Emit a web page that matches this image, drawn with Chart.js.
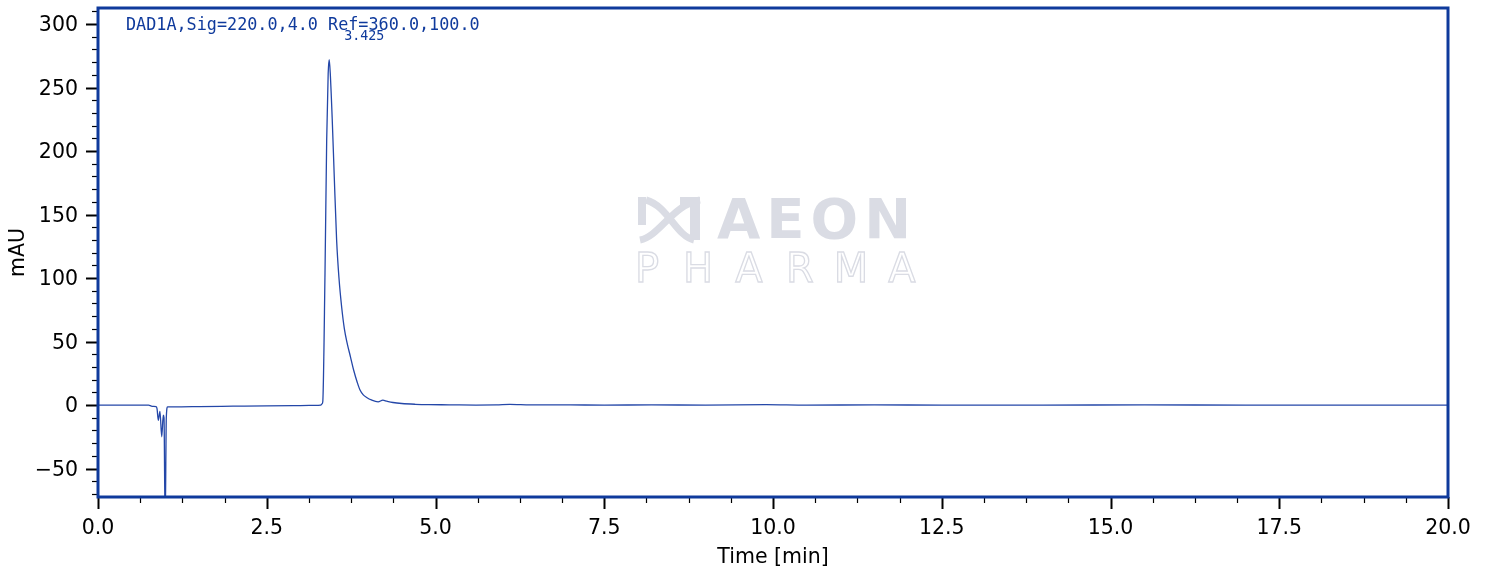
<!DOCTYPE html>
<html>
<head>
<meta charset="utf-8">
<script src="https://cdn.jsdelivr.net/npm/chart.js@4.4.1/dist/chart.umd.min.js"></script>
<style>
html, body { margin: 0; padding: 0; background: #fff; }
</style>
</head>
<body>
<canvas id="myChart" width="1489" height="570"></canvas>
<script>
// retention time, min
const timeMin = [0, 0.3, 0.6, 0.75, 0.79, 0.82, 0.86, 0.875, 0.893, 0.918, 0.944, 0.967, 0.978, 0.995, 1.012, 1.03,
  1.2, 1.5, 2.0, 2.5, 3.0, 3.2, 3.3, 3.32, 3.33, 3.363, 3.388, 3.41, 3.425, 3.44, 3.47, 3.5, 3.535, 3.57,
  3.61, 3.65, 3.69, 3.74, 3.79, 3.84, 3.88, 3.93, 3.98, 4.05, 4.15, 4.22, 4.28, 4.37, 4.5, 4.7, 4.9,
  5.2, 5.6, 5.9, 6.1, 6.4, 7.0, 7.5, 8.2, 9.0, 9.9, 10.5, 11.5, 12.5, 14.0, 15.5, 17.0, 18.5, 20.0]
// signal, mAU
const signalMAU = [0, 0, 0, 0, -0.8, -1, -1.2, -3, -12, -5, -25, -8, -10, -95, -10, -1.5,
  -1.4, -1.2, -0.9, -0.6, -0.4, -0.3, 0, 1, 2.6, 104, 209, 261, 272, 262, 225, 180, 130, 100,
  77, 60, 49, 38, 27, 18, 12, 8, 6, 4, 2.5, 3.8, 3, 2, 1.2, 0.6, 0.3,
  0.2, 0, 0.1, 0.6, 0.2, 0.1, 0, 0.1, 0, 0.4, 0, 0.1, 0, 0, 0.1, 0, 0, 0]

const peakTime = 3.425
const peakLabel = '3.425'
const signalTitle = 'DAD1A,Sig=220.0,4.0 Ref=360.0,100.0'

const xTicks = [0, 2.5, 5, 7.5, 10, 12.5, 15, 17.5, 20]
const xTickLabels = ['0.0', '2.5', '5.0', '7.5', '10.0', '12.5', '15.0', '17.5', '20.0']
const yTicks = [-50, 0, 50, 100, 150, 200, 250, 300]
const yTickLabels = ['\u221250', '0', '50', '100', '150', '200', '250', '300']

const blue = '#0f3a9c'
const lineBlue = '#2447a8'
const gray = '#dadce4'
const tickFont = { family: 'DejaVu Sans', size: 20.5 }

// minor ticks like matplotlib AutoMinorLocator
const xMinor = []
for (let v = 0; v <= 20.001; v += 0.625) xMinor.push(v)
const yMinor = []
for (let v = -70; v <= 310; v += 10) yMinor.push(v)

const decor = {
  id: 'decor',
  beforeDatasetsDraw(chart) {
    const ctx = chart.ctx
    ctx.save()
    // watermark logo
    ctx.strokeStyle = gray
    ctx.fillStyle = gray
    ctx.lineWidth = 7
    ctx.lineCap = 'butt'
    ctx.fillRect(638, 197, 8, 28)
    ctx.beginPath()
    ctx.moveTo(640, 240)
    ctx.bezierCurveTo(660, 236, 672, 205, 700, 200)
    ctx.stroke()
    ctx.beginPath()
    ctx.moveTo(646, 200)
    ctx.bezierCurveTo(668, 206, 676, 236, 694, 240)
    ctx.stroke()
    ctx.fillRect(690, 197, 10, 43)
    ctx.fillRect(680, 197, 12, 8)
    // AEON
    ctx.font = 'bold 56px "DejaVu Sans"'
    ctx.textBaseline = 'alphabetic'
    ctx.textAlign = 'left'
    ctx.letterSpacing = '6px'
    ctx.fillText('AEON', 717, 238)
    // PHARMA outlined
    ctx.letterSpacing = '0px'
    ctx.font = '40px "DejaVu Sans"'
    ctx.lineWidth = 1.3
    ctx.textAlign = 'center'
    const letters = 'PHARMA'
    for (let i = 0; i < letters.length; i++) {
      ctx.strokeText(letters[i], 647 + i * 51, 282)
    }
    ctx.restore()
  },
  afterDraw(chart) {
    const { ctx, chartArea: a, scales } = chart
    const x = scales.x, y = scales.y
    ctx.save()
    ctx.strokeStyle = '#000'
    xMinor.forEach(v => {
      const px = Math.round(x.getPixelForValue(v)) + 0.5
      const major = Math.abs(v / 2.5 - Math.round(v / 2.5)) < 1e-6
      ctx.lineWidth = major ? 2 : 1.2
      ctx.beginPath()
      ctx.moveTo(px, a.bottom)
      ctx.lineTo(px, a.bottom + (major ? 12 : 6))
      ctx.stroke()
    })
    yMinor.forEach(v => {
      const py = Math.round(y.getPixelForValue(v)) + 0.5
      const major = v % 50 === 0
      ctx.lineWidth = major ? 2 : 1.2
      ctx.beginPath()
      ctx.moveTo(a.left, py)
      ctx.lineTo(a.left - (major ? 12 : 6), py)
      ctx.stroke()
    })
    // frame
    ctx.strokeStyle = blue
    ctx.lineWidth = 3
    ctx.strokeRect(a.left, a.top, a.right - a.left, a.bottom - a.top)
    // texts
    ctx.fillStyle = blue
    ctx.textAlign = 'left'
    ctx.textBaseline = 'middle'
    ctx.font = '16.8px "DejaVu Sans Mono"'
    ctx.fillText(signalTitle, 126, 26)
    ctx.font = '13.3px "DejaVu Sans Mono"'
    ctx.textAlign = 'center'
    ctx.fillText(peakLabel, x.getPixelForValue(peakTime) + 35, 37)
    ctx.restore()
  }
}

const ctx = document.getElementById('myChart')
const myChart = new Chart(ctx, {
  type: 'line',
  data: {
    datasets: [{
      data: timeMin.map((t, i) => ({ x: t, y: signalMAU[i] })),
      borderColor: lineBlue,
      borderWidth: 1.3,
      pointRadius: 0,
      cubicInterpolationMode: 'monotone',
      fill: false
    }]
  },
  options: {
    responsive: false,
    animation: false,
    events: [],
    layout: { autoPadding: false, padding: { top: 8, right: 41, left: 0, bottom: 0 } },
    plugins: { legend: { display: false }, tooltip: { enabled: false } },
    scales: {
      x: {
        type: 'linear',
        min: 0,
        max: 20,
        afterBuildTicks: s => { s.ticks = xTicks.map(v => ({ value: v })) },
        afterFit: s => { s.height = 73; s.paddingLeft = 0; s.paddingRight = 0 },
        grid: { display: false, drawTicks: false },
        border: { display: false },
        ticks: {
          callback: (v, i) => xTickLabels[i],
          font: tickFont, color: '#000', padding: 19, maxRotation: 0, autoSkip: false
        },
        title: { display: true, text: 'Time [min]', font: tickFont, color: '#000', padding: { top: 0, bottom: 0 } }
      },
      y: {
        min: -72.4,
        max: 312.6,
        afterBuildTicks: s => { s.ticks = yTicks.map(v => ({ value: v })) },
        afterFit: s => { s.width = 98; s.paddingTop = 0; s.paddingBottom = 0 },
        grid: { display: false, drawTicks: false },
        border: { display: false },
        ticks: {
          callback: (v, i) => yTickLabels[i],
          font: tickFont, color: '#000', padding: 20, labelOffset: 2, autoSkip: false
        },
        title: { display: true, text: 'mAU', font: tickFont, color: '#000', padding: { top: 6, bottom: 4 } }
      }
    }
  },
  plugins: [decor]
})
</script>
</body>
</html>
